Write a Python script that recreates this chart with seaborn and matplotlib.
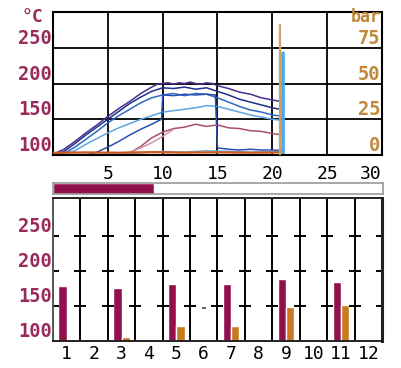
import pandas as pd
import matplotlib
matplotlib.use("Agg")
import matplotlib.pyplot as plt
import seaborn as sns

sns.set_theme(style="white")
plt.rcParams["font.family"] = ["DejaVu Sans Mono", "DejaVu Sans"]

# --- top chart: temperature curves (°C) over time ---
t_a = [0, 1, 2, 3, 4, 5, 6, 7, 8, 9, 9.5, 10, 10.5, 11, 11.5, 12, 12.5, 13, 13.5, 14, 14.5, 15, 16, 17, 18, 19, 20, 21]
temp_a = [101, 108, 119, 131, 142, 154, 165, 175, 186, 195, 199, 200, 201, 199, 201, 200, 202, 200, 199, 201, 200, 197, 193, 188, 185, 180, 177, 174]

t_b = [0, 1, 2, 3, 4, 5, 6, 7, 8, 9, 10, 11, 12, 13, 14, 15, 16, 17, 18, 19, 20, 21]
temp_b = [100, 105, 116, 128, 139, 150, 161, 172, 181, 189, 194, 193, 195, 192, 194, 189, 184, 178, 174, 170, 166, 163]

t_c = [0, 1, 2, 3, 4, 5, 6, 7, 8, 9, 10, 11, 12, 13, 14, 15, 16, 17, 18, 19, 20, 21]
temp_c = [100, 102, 111, 122, 133, 145, 155, 164, 173, 180, 184, 186, 183, 186, 185, 180, 174, 168, 163, 160, 156, 154]

t_d = [0, 1, 2, 3, 4, 5, 6, 7, 8, 9, 10, 11, 12, 13, 14, 15, 16, 17, 18, 19, 20, 21]
temp_d = [100, 101, 106, 115, 123, 131, 138, 144, 150, 155, 160, 162, 164, 166, 169, 168, 164, 160, 156, 153, 150, 148]

t_e = [3, 4, 5, 6, 7, 8, 9, 9.9, 10, 11, 12, 13, 14, 14.8, 15, 16, 17, 18, 19, 20, 21]
temp_e = [100, 104, 111, 119, 128, 136, 143, 150, 184, 183, 185, 184, 185, 184, 110, 108, 107, 108, 107, 107, 106]

t_f = [6, 7, 8, 9, 10, 11, 12, 13, 14, 15, 16, 17, 18, 19, 20, 21]
temp_f = [100, 103, 112, 124, 132, 137, 139, 143, 140, 142, 138, 137, 134, 133, 130, 128]

t_g = [5, 6, 7, 8, 9, 10, 11]
temp_g = [100, 101, 104, 110, 117, 126, 136]

t_h = [0, 4, 8, 10, 12, 14, 16, 18, 20, 21]
temp_h = [100, 101, 103, 105, 104, 106, 105, 104, 105, 104]

t_spike = [20.95, 20.95]
temp_spike = [100, 242]

# pressure (bar), right axis
t_p = [0, 3, 6, 9, 12, 15, 18, 20.7]
press = [1.5, 1.8, 1.6, 2.0, 1.7, 1.9, 1.6, 1.8]
t_pspike = [20.7, 20.7]
press_spike = [0, 91]

# progress of cycle
progress = [9.2]

# --- bottom chart: per-zone values ---
zones = [str(i) for i in range(1, 13)]
bar_zones = ["1", "3", "5", "7", "9", "11"]
zone_temp = [179, 175, 182, 182, 189, 184]
zone_press = [103, 105, 121, 122, 148, 151]
dash_zone = ["6"]
dash_value = [147]

maroon = "#93104f"
orange = "#c87a20"
lbl_maroon = "#9b2a5c"
lbl_orange = "#c08838"

curves = {
    "A": (t_a, temp_a, "#4a2f8f"),
    "B": (t_b, temp_b, "#1f2f8a"),
    "C": (t_c, temp_c, "#2f67c4"),
    "D": (t_d, temp_d, "#5aa6e6"),
    "E": (t_e, temp_e, "#2a4fb0"),
    "F": (t_f, temp_f, "#a8506a"),
    "G": (t_g, temp_g, "#d094aa"),
    "H": (t_h, temp_h, "#66b2e8"),
}
rows = []
for name, (ts, vs, _) in curves.items():
    for t, v in zip(ts, vs):
        rows.append({"curve": name, "t": t, "temp": v})
df_temp = pd.DataFrame(rows)
pal = {k: c[2] for k, c in curves.items()}

df_press = pd.concat([
    pd.DataFrame({"curve": "P", "t": t_p, "bar": press}),
    pd.DataFrame({"curve": "PS", "t": t_pspike, "bar": press_spike}),
])

fig = plt.figure(figsize=(4.02, 3.68), dpi=100)
ax = fig.add_axes([53 / 402, 1 - 155 / 368, 329 / 402, 143 / 368])
axp = fig.add_axes([53 / 402, 1 - 194 / 368, 330 / 402, 11 / 368])
axb = fig.add_axes([53 / 402, 1 - 341 / 368, 329 / 402, 143 / 368])

# top chart
sns.lineplot(data=df_temp, x="t", y="temp", hue="curve", palette=pal, estimator=None,
             sort=False, legend=False, lw=1.1, ax=ax)
sns.lineplot(x=t_spike, y=temp_spike, estimator=None, sort=False, color="#4aa8f0",
             lw=2.6, ax=ax)
ax.set_xlim(0, 30)
ax.set_ylim(100, 300)
ax.set_xticks([5, 10, 15, 20, 25, 30])
ax.set_yticks([100, 150, 200, 250])
ax.set_xlabel("")
ax.set_ylabel("")
ax.grid(True, color="black", lw=1.3)
for s in ax.spines.values():
    s.set_color("black")
    s.set_linewidth(1.5)
ax.tick_params(axis="x", length=0, pad=7, labelsize=13, labelcolor="black")
ax.tick_params(axis="y", length=0, pad=1, labelsize=13.5, labelcolor=lbl_maroon)
for lbl in ax.get_yticklabels():
    lbl.set_verticalalignment("bottom")
    lbl.set_fontweight("bold")
ax.get_xticklabels()[-1].set_horizontalalignment("right")
ax.text(-0.03, 280, "°C", transform=ax.get_yaxis_transform(), ha="right", va="bottom",
        color=lbl_maroon, fontsize=13, fontweight="bold")

ax2 = ax.twinx()
sns.lineplot(data=df_press, x="t", y="bar", hue="curve",
             palette={"P": "#d0581e", "PS": "#d4a060"}, estimator=None, sort=False,
             legend=False, lw=1.6, ax=ax2)
ax2.set_ylim(0, 100)
ax2.set_yticks([0, 25, 50, 75])
ax2.set_ylabel("")
ax2.grid(False)
for s in ax2.spines.values():
    s.set_visible(False)
ax2.tick_params(axis="y", length=0, pad=-1, labelsize=13.5, labelcolor=lbl_orange)
for lbl in ax2.get_yticklabels():
    lbl.set_horizontalalignment("right")
    lbl.set_verticalalignment("bottom")
    lbl.set_fontweight("bold")
ax2.text(0.995, 90, "bar", transform=ax2.get_yaxis_transform(), ha="right", va="bottom",
         color=lbl_orange, fontsize=12, fontweight="bold")

# progress bar
sns.barplot(x=progress, y=["job"], orient="h", width=1, color=maroon, saturation=1, ax=axp)
axp.set_xlim(0, 30)
axp.set_ylim(0.5, -0.5)
axp.set_xticks([])
axp.set_yticks([])
axp.set_xlabel("")
axp.set_ylabel("")
for s in axp.spines.values():
    s.set_color("#9a9a9a")
    s.set_linewidth(1.2)

# bottom chart
df_zone = pd.concat([
    pd.DataFrame({"zone": bar_zones, "value": zone_temp, "series": "temp"}),
    pd.DataFrame({"zone": bar_zones, "value": zone_press, "series": "press"}),
])
sns.barplot(data=df_zone, x="zone", y="value", hue="series", order=zones,
            hue_order=["temp", "press"], palette={"temp": maroon, "press": orange},
            width=0.6, saturation=1, errorbar=None, legend=False, ax=axb)
sns.scatterplot(x=[zones.index(z) for z in dash_zone], y=dash_value, marker="_", s=12,
                color="#444444", linewidth=1.2, ax=axb)
axb.set_xlim(-0.5, 11.5)
axb.set_ylim(100, 304)
axb.set_yticks([100, 150, 200, 250])
axb.set_xlabel("")
axb.set_ylabel("")
for i in range(11):
    axb.axvline(i + 0.5, color="black", lw=1.4, zorder=0)
cross_x = [i - 0.5 for i in range(13)]
for lvl in [150, 200, 250]:
    axb.scatter(cross_x, [lvl] * len(cross_x), marker="_", s=64, color="black",
                linewidth=1.4, zorder=1)
for name, s in axb.spines.items():
    s.set_color("#222222")
    s.set_linewidth(1.4)
axb.spines["right"].set_linewidth(2.2)
axb.spines["left"].set_color("#555555")
axb.tick_params(axis="x", length=0, pad=3, labelsize=13, labelcolor="black")
axb.tick_params(axis="y", length=0, pad=1, labelsize=13.5, labelcolor=lbl_maroon)
for lbl in axb.get_yticklabels():
    lbl.set_verticalalignment("bottom")
    lbl.set_fontweight("bold")

fig.savefig("out.png", dpi=100, facecolor="white")
